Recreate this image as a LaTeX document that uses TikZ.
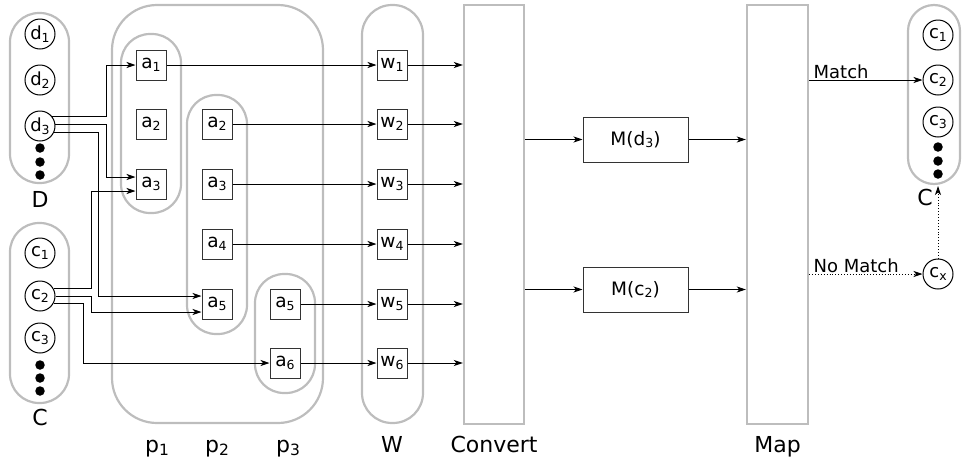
\documentclass[tikz,border=0pt]{standalone}
\usepackage{fontspec}
\setmainfont{DejaVu Sans}
\usetikzlibrary{arrows.meta}
\definecolor{grpgray}{HTML}{BDBDBD}
\definecolor{boxgray}{HTML}{333333}
\newcommand{\sbs}[1]{\raisebox{-2.5pt}{\fontsize{12.5pt}{12.5pt}\selectfont #1}}
\newcommand{\bsbs}[1]{\raisebox{-3pt}{\fontsize{15.5pt}{15.5pt}\selectfont #1}}
\tikzset{
  grp/.style={draw=grpgray, line width=2.2pt},
  bigrect/.style={draw=grpgray, line width=2.4pt, rectangle, inner sep=0pt},
  abox/.style={draw=boxgray, line width=1pt, rectangle, minimum width=30pt, minimum height=30pt, inner sep=0pt, font=\fontsize{18.5pt}{20pt}\selectfont},
  circ/.style={draw=black, line width=1pt, circle, minimum size=30pt, inner sep=0pt, font=\fontsize{18pt}{20pt}\selectfont},
  arr/.style={-{Stealth[length=9pt,width=6pt,inset=2.5pt]}, line width=0.9pt},
  lbl/.style={font=\fontsize{18pt}{20pt}\selectfont, inner sep=1pt},
  blbl/.style={font=\fontsize{22pt}{24pt}\selectfont, inner sep=0pt},
  dotn/.style={fill=black, circle, minimum size=9.5pt, inner sep=0pt}
}
\begin{document}
\begin{tikzpicture}[x=1pt,y=-1pt]
\useasboundingbox (0,0) rectangle (962,464);
% groups
\draw[grp, rounded corners=29pt] (10,13) rectangle (69,183);
\draw[grp, rounded corners=29pt] (10,223) rectangle (69,403);
\draw[grp, rounded corners=45pt] (112,5) rectangle (323,423);
\draw[grp, rounded corners=29pt] (121,34) rectangle (181,213);
\draw[grp, rounded corners=29pt] (187,95) rectangle (247,334);
\draw[grp, rounded corners=29pt] (255,274) rectangle (315,393);
\draw[grp, rounded corners=30pt] (362,5) rectangle (423,423);
\draw[grp, rounded corners=26pt] (908,5) rectangle (960,184);
% big rectangles
\node[bigrect, minimum width=60pt, minimum height=419pt] (conv) at (494,214.5) {};
\node[bigrect, minimum width=61pt, minimum height=419pt] (map) at (777.5,214.5) {};
% D
\node[circ] (d1) at (40,34) {d\sbs{1}};
\node[circ] (d2) at (40,80) {d\sbs{2}};
\node[circ] (d3) at (40,126) {d\sbs{3}};
\node[dotn] (dd1) at (40,148) {};
\node[dotn] (dd2) at (40,162) {};
\node[dotn] (dd3) at (40,175) {};
\node[blbl] (Dl) at (40,199) {D};
% C
\node[circ] (c1) at (40,253) {c\sbs{1}};
\node[circ] (c2) at (40,296) {c\sbs{2}};
\node[circ] (c3) at (40,338) {c\sbs{3}};
\node[dotn] (cd1) at (40,365) {};
\node[dotn] (cd2) at (40,378) {};
\node[dotn] (cd3) at (40,391) {};
\node[blbl] (Cl) at (40,417) {C};
% p1
\node[abox] (a1) at (151,65) {a\sbs{1}};
\node[abox] (a2a) at (151,124) {a\sbs{2}};
\node[abox] (a3a) at (151,184) {a\sbs{3}};
% p2
\node[abox] (a2b) at (217,124) {a\sbs{2}};
\node[abox] (a3b) at (217,184) {a\sbs{3}};
\node[abox] (a4) at (217,244) {a\sbs{4}};
\node[abox] (a5b) at (217,304) {a\sbs{5}};
% p3
\node[abox] (a5c) at (285,304) {a\sbs{5}};
\node[abox] (a6) at (285,363) {a\sbs{6}};
% W
\node[abox] (w1) at (392,65) {w\sbs{1}};
\node[abox] (w2) at (392,124) {w\sbs{2}};
\node[abox] (w3) at (392,184) {w\sbs{3}};
\node[abox] (w4) at (392,244) {w\sbs{4}};
\node[abox] (w5) at (392,304) {w\sbs{5}};
\node[abox] (w6) at (392,363) {w\sbs{6}};
% M boxes
\node[abox, minimum width=105pt, minimum height=45pt] (md) at (635.5,139.5) {M(d\sbs{3})};
\node[abox, minimum width=105pt, minimum height=45pt] (mc) at (635.5,289.5) {M(c\sbs{2})};
% right C
\node[circ] (rc1) at (938,35) {c\sbs{1}};
\node[circ] (rc2) at (938,80) {c\sbs{2}};
\node[circ] (rc3) at (938,122) {c\sbs{3}};
\node[dotn] (rd1) at (938,147) {};
\node[dotn] (rd2) at (938,161) {};
\node[dotn] (rd3) at (938,174) {};
\node[blbl] (RCl) at (925,197) {C};
\node[circ] (cx) at (938,274) {c\sbs{x}};
\coordinate (cbot) at (938,186);
% bottom labels
\node[blbl, anchor=base] (p1l) at (157,452) {p\bsbs{1}};
\node[blbl, anchor=base] (p2l) at (217,452) {p\bsbs{2}};
\node[blbl, anchor=base] (p3l) at (288,452) {p\bsbs{3}};
\node[blbl, anchor=base] (Wl) at (392,452) {W};
\node[blbl, anchor=base] (convl) at (494,452) {Convert};
\node[blbl, anchor=base] (mapl) at (777.5,452) {Map};
% turn columns
\coordinate (t1) at (106,0);
\coordinate (t2) at (98,0);
\coordinate (t3) at (91,0);
\coordinate (t4) at (83,0);
% wires from d3
\draw[arr] (d3.37) -- (d3.37 -| t1) |- (a1.west);
\draw[arr] (d3.4) -- (d3.4 -| t1) |- ([yshift=7pt]a3a.west);
\draw[arr] (d3.-24) -- (d3.-24 -| t2) |- ([yshift=8pt]a5b.west);
% wires from c2
\draw[arr] (c2.28) -- (c2.28 -| t3) |- ([yshift=-7pt]a3a.west);
\draw[arr] (c2.0) -- (c2.0 -| t3) |- ([yshift=-8pt]a5b.west);
\draw[arr] (c2.-28) -- (c2.-28 -| t4) |- (a6.west);
% a -> w
\draw[arr] (a1) -- (w1);
\draw[arr] (a2b) -- (w2);
\draw[arr] (a3b) -- (w3);
\draw[arr] (a4) -- (w4);
\draw[arr] (a5c) -- (w5);
\draw[arr] (a6) -- (w6);
% w -> convert
\foreach \w in {w1,w2,w3,w4,w5,w6}
  \draw[arr] (\w.east) -- (\w.east -| conv.west);
% convert -> M -> map
\draw[arr] (md.west -| conv.east) -- (md.west);
\draw[arr] (mc.west -| conv.east) -- (mc.west);
\draw[arr] (md.east) -- (md.east -| map.west);
\draw[arr] (mc.east) -- (mc.east -| map.west);
% map -> C
\draw[arr] (rc2 -| map.east) -- node[lbl, pos=0, anchor=south west, xshift=3pt] {Match} (rc2.west);
\draw[arr, dotted] (cx -| map.east) -- node[lbl, pos=0, anchor=south west, xshift=3pt] {No Match} (cx.west);
\draw[arr, dotted] (cx.north) -- (cbot);
\end{tikzpicture}
\end{document}
